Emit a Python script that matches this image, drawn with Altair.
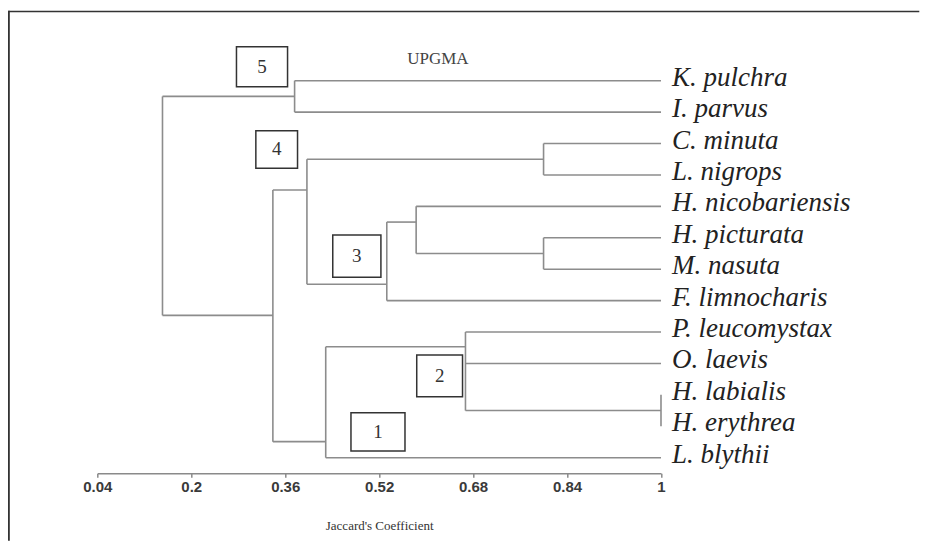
import altair as alt
import pandas as pd

# ---- data ----
leaf_names = ["K. pulchra", "I. parvus", "C. minuta", "L. nigrops", "H. nicobariensis",
              "H. picturata", "M. nasuta", "F. limnocharis", "P. leucomystax", "O. laevis",
              "H. labialis", "H. erythrea", "L. blythii"]
leaf_parent = ["n5", "n5", "nCL", "nCL", "nHHM", "nPM", "nPM", "n3", "n2", "n2", "nH", "nH", "n1"]

node_names = ["root", "n5", "nA", "n4", "nCL", "n3", "nHHM", "nPM", "n1", "n2", "nH"]
node_coef = [0.151, 0.376, 0.339, 0.397, 0.80, 0.533, 0.583, 0.80, 0.429, 0.667, 1.0]
node_pos = [4.0, 0.5, 7.47, 3.48, 2.5, 6.48, 4.5, 5.5, 11.49, 8.47, 10.5]
node_parent = ["", "root", "root", "nA", "n4", "n4", "n3", "nHHM", "nA", "n1", "n2"]

tick_values = [0.04, 0.2, 0.36, 0.52, 0.68, 0.84, 1.0]

box_labels = ["5", "4", "3", "2", "1"]
box_x1 = [0.277, 0.310, 0.441, 0.584, 0.472]
box_x2 = [0.364, 0.381, 0.523, 0.662, 0.564]
box_y1 = [-1.08, 1.59, 4.91, 8.73, 10.57]
box_y2 = [0.19, 2.79, 6.26, 10.06, 11.79]

method_label = "UPGMA"
method_x = [0.620]
method_y = [-0.69]
axis_title = "Jaccard's Coefficient"

# ---- build tree segments ----
coef = {n: 1.0 for n in leaf_names}
pos = {n: float(i) for i, n in enumerate(leaf_names)}
parent = dict(zip(leaf_names, leaf_parent))
for n, c, p, par in zip(node_names, node_coef, node_pos, node_parent):
    coef[n] = c
    pos[n] = p
    if par:
        parent[n] = par
children = {}
for ch, par in parent.items():
    children.setdefault(par, []).append(ch)

vert = pd.DataFrame([
    {"x": coef[n], "y": min(pos[c] for c in children[n]), "y2": max(pos[c] for c in children[n])}
    for n in node_names
])
horiz = pd.DataFrame([
    {"x": coef[ch], "x2": coef[par], "y": pos[ch]} for ch, par in parent.items()
])
leaves = pd.DataFrame({"name": leaf_names, "x": [1.0] * len(leaf_names),
                       "y": list(range(len(leaf_names)))})
boxes = pd.DataFrame({"label": box_labels, "x": box_x1, "x2": box_x2, "y": box_y1, "y2": box_y2})
boxes["cx"] = (boxes["x"] + boxes["x2"]) / 2
boxes["cy"] = (boxes["y"] + boxes["y2"]) / 2
method = pd.DataFrame({"t": [method_label], "x": method_x, "y": method_y})

xscale = alt.Scale(domain=[0.04, 1.0], nice=False, zero=False)
yscale = alt.Scale(domain=[0, 12], nice=False, zero=False, reverse=True)
xaxis = alt.Axis(values=tick_values, labelExpr="'' + datum.value", title=axis_title, grid=False,
                 offset=15.6, domainColor="#8a8a8a", domainWidth=1.5,
                 tickColor="#8a8a8a", tickSize=4, tickWidth=1.5,
                 labelFont="Liberation Sans", labelFontSize=15, labelFontWeight="bold",
                 labelColor="#3a3a3a", labelPadding=2, labelFlush=False, labelOverlap=False,
                 titleFont="Liberation Serif", titleFontSize=13, titleFontWeight="normal",
                 titleColor="#333333", titlePadding=25)


def X(f):
    return alt.X(f, type="quantitative", scale=xscale, axis=xaxis)


def Y(f):
    return alt.Y(f, type="quantitative", scale=yscale, axis=None)


line_color = "#8c8c8c"

v_layer = alt.Chart(vert).mark_rule(color=line_color, strokeWidth=1.6).encode(
    x=X("x"), y=Y("y"), y2="y2")
h_layer = alt.Chart(horiz).mark_rule(color=line_color, strokeWidth=1.6).encode(
    x=X("x"), x2="x2", y=Y("y"))
labels = alt.Chart(leaves).mark_text(
    align="left", baseline="alphabetic", dx=11, dy=5, font="Liberation Serif",
    fontStyle="italic", fontSize=27, color="#222222").encode(
    x=X("x"), y=Y("y"), text="name")
box_layer = alt.Chart(boxes).mark_rect(fillOpacity=0, stroke="#333333", strokeWidth=1.5).encode(
    x=X("x"), x2="x2", y=Y("y"), y2="y2")
box_text = alt.Chart(boxes).mark_text(
    font="Liberation Serif", fontSize=19, color="#333333", baseline="middle", align="center").encode(
    x=X("cx"), y=Y("cy"), text="label")
method_text = alt.Chart(method).mark_text(
    font="Liberation Serif", fontSize=17, color="#444444", baseline="middle", align="center").encode(
    x=X("x"), y=Y("y"), text="t")
frame_top = alt.Chart(method).mark_rule(color="#333333", strokeWidth=1.5).encode(
    x=alt.value(-89), x2=alt.value(822), y=alt.value(-69.3), y2=alt.value(-69.3))
frame_left = alt.Chart(method).mark_rule(color="#333333", strokeWidth=2).encode(
    x=alt.value(-88.5), x2=alt.value(-88.5), y=alt.value(-70), y2=alt.value(460))

chart = alt.layer(v_layer, h_layer, labels, box_layer, box_text, method_text,
                  frame_top, frame_left).properties(
    width=563.7, height=377,
    padding={"left": 89.3, "top": 72.7, "right": 259, "bottom": 84},
    autosize=alt.AutoSizeParams(type="none"),
    background="white",
).configure_view(stroke=None)

chart.save("out.html", embed_options={"renderer": "svg", "actions": False})
